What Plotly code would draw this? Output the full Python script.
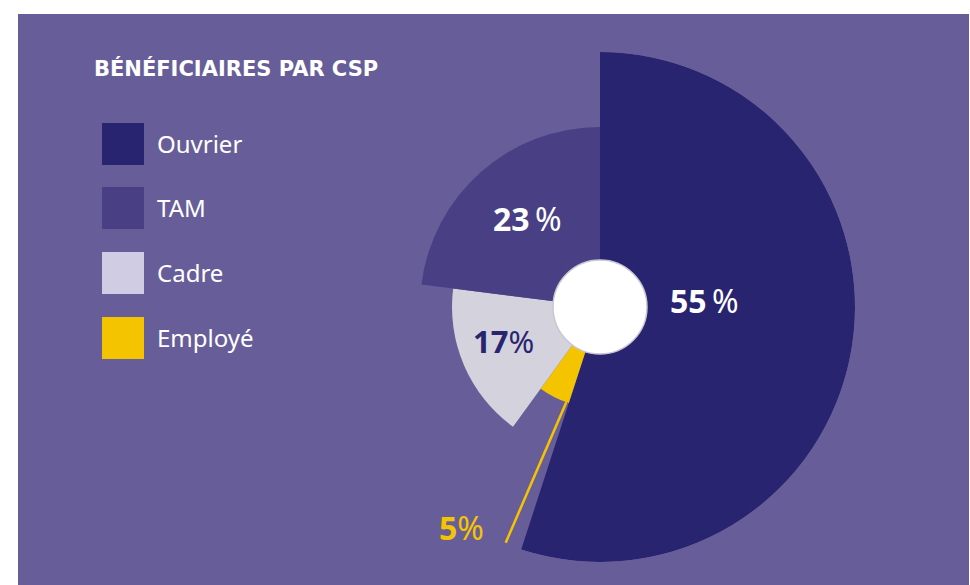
import plotly.graph_objects as go

# ---- data ----
categories = ["Ouvrier", "TAM", "Cadre", "Employé"]
shares = [55, 23, 17, 5]                # percent
radii = [255, 180, 148, 101]            # slice lengths (relative)
colors = ["#29246f", "#483f85", "#d4d2dd", "#f5c400"]
legend_colors = ["#29246f", "#483f85", "#cfcce3", "#f5c400"]
slice_order = ["Ouvrier", "Employé", "Cadre", "TAM"]   # clockwise from 12 o'clock
label_texts = ["<b>55</b>\u2009%", "<b>23</b>\u2009%", "<b>17</b>%", "<b>5</b>%"]
label_colors = ["#ffffff", "#ffffff", "#29246f", "#f5c400"]
label_sizes = [32, 32, 31, 32]
title_text = "BÉNÉFICIAIRES PAR CSP"

W, H = 970, 585
BG = "#675e99"
CX, CY, R = 600, 307, 255

def px(x):
    return x / W

def py(y):
    return 1 - y / H

fig = go.Figure()

# slices
start = 0.0
for name in slice_order:
    i = categories.index(name)
    width = shares[i] * 3.6
    fig.add_trace(go.Barpolar(
        r=[radii[i]], theta=[start + width / 2], width=[width],
        marker=dict(color=colors[i], line=dict(width=0)),
        name=name, showlegend=False, hoverinfo="skip",
    ))
    start += width

# leader line for Employé
fig.add_trace(go.Scatterpolar(
    r=[101, 254], theta=[199.5, 201.8], mode="lines",
    line=dict(color="#f5c400", width=2.5), showlegend=False, hoverinfo="skip",
))

# central white hole
fig.add_trace(go.Barpolar(
    r=[47], theta=[0], width=[360],
    marker=dict(color="#ffffff", line=dict(color="#c9c7d4", width=1.5)),
    showlegend=False, hoverinfo="skip",
))

fig.update_layout(
    width=W, height=H,
    margin=dict(l=0, r=0, t=0, b=0),
    paper_bgcolor=BG,
    plot_bgcolor=BG,
    polar=dict(
        domain=dict(x=[px(CX - R), px(CX + R)], y=[py(CY + R), py(CY - R)]),
        bgcolor="rgba(0,0,0,0)",
        radialaxis=dict(visible=False, range=[0, R]),
        angularaxis=dict(visible=False, rotation=90, direction="clockwise"),
        bargap=0,
    ),
    showlegend=False,
)

shapes = [
    dict(type="rect", xref="paper", yref="paper", x0=0, x1=px(18), y0=0, y1=1,
         fillcolor="#ffffff", line=dict(width=0), layer="above"),
    dict(type="rect", xref="paper", yref="paper", x0=0, x1=1, y0=py(14), y1=1,
         fillcolor="#ffffff", line=dict(width=0), layer="above"),
    dict(type="rect", xref="paper", yref="paper", x0=px(969), x1=1, y0=0, y1=1,
         fillcolor="#ffffff", line=dict(width=0), layer="above"),
]

annotations = []
annotations.append(dict(
    text="<b>" + title_text + "</b>", x=px(92), y=py(68), xref="paper", yref="paper",
    xanchor="left", yanchor="middle", showarrow=False,
    font=dict(family="DejaVu Sans", size=21, color="#ffffff"),
))

# custom legend
leg_top = [123, 187, 252, 317]
for k, name in enumerate(categories):
    y0 = leg_top[k]
    shapes.append(dict(type="rect", xref="paper", yref="paper",
                       x0=px(102), x1=px(144), y0=py(y0 + 42), y1=py(y0),
                       fillcolor=legend_colors[k], line=dict(width=0)))
    annotations.append(dict(
        text=name, x=px(155), y=py(y0 + 20), xref="paper", yref="paper",
        xanchor="left", yanchor="middle", showarrow=False,
        font=dict(family="Noto Sans", size=24, color="#ffffff"),
    ))

# percentage labels
label_pos = [(704, 300), (527, 218), (503, 341), (461, 527)]
for k, name in enumerate(categories):
    x, y = label_pos[k]
    annotations.append(dict(
        text=label_texts[k], x=px(x), y=py(y), xref="paper", yref="paper",
        xanchor="center", yanchor="middle", showarrow=False,
        font=dict(family="Noto Sans", size=label_sizes[k], color=label_colors[k]),
    ))

fig.update_layout(shapes=shapes, annotations=annotations)
fig.write_html("out.html", config={"displayModeBar": False},
               post_script="document.body.style.margin='0';")
